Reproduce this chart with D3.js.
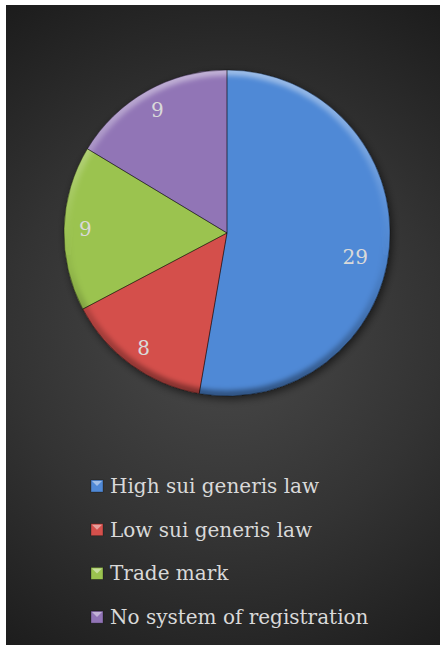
<!DOCTYPE html>
<html>
<head>
<meta charset="utf-8">
<script src="https://cdn.jsdelivr.net/npm/d3@7"></script>
<style>
  body { margin: 0; background: #fff; }
  svg { display: block; }
</style>
</head>
<body>
<svg id="chart"></svg>
<script>
// donnees du camembert
var categories = ["High sui generis law", "Low sui generis law", "Trade mark", "No system of registration"];
var valeurs = [29, 8, 9, 9];
var couleurs = ["#5089d6", "#d4504c", "#9bc34f", "#9174b6"];

var svgWidth = 441, svgHeight = 649;
var svg = d3.select("#chart")
  .attr("width", svgWidth)
  .attr("height", svgHeight);

var defs = svg.append("defs");

// fond gris degrade
var bg = defs.append("radialGradient")
  .attr("id", "fond")
  .attr("gradientUnits", "userSpaceOnUse")
  .attr("cx", 225).attr("cy", 330).attr("r", 390);
bg.append("stop").attr("offset", 0).attr("stop-color", "#4a4a4a");
bg.append("stop").attr("offset", 0.55).attr("stop-color", "#333333");
bg.append("stop").attr("offset", 1).attr("stop-color", "#1c1c1c");

svg.append("rect")
  .attr("x", 6).attr("y", 5)
  .attr("width", 434).attr("height", 640)
  .attr("fill", "url(#fond)");

// ombre
var ombre = defs.append("filter").attr("id", "ombre")
  .attr("x", "-20%").attr("y", "-20%").attr("width", "140%").attr("height", "140%");
ombre.append("feDropShadow")
  .attr("dx", 2).attr("dy", 3).attr("stdDeviation", 4)
  .attr("flood-color", "#000").attr("flood-opacity", 0.6);

var flou = defs.append("filter").attr("id", "flou")
  .attr("x", "-10%").attr("y", "-10%").attr("width", "120%").attr("height", "120%");
flou.append("feGaussianBlur").attr("stdDeviation", 2.5);

var cx = 227, cy = 233, rayon = 163;

defs.append("clipPath").attr("id", "disque")
  .append("circle").attr("cx", 0).attr("cy", 0).attr("r", rayon);

// biseau du bord
var rim = defs.append("linearGradient")
  .attr("id", "biseau")
  .attr("gradientUnits", "userSpaceOnUse")
  .attr("x1", 0).attr("y1", -rayon).attr("x2", 0).attr("y2", rayon);
rim.append("stop").attr("offset", 0).attr("stop-color", "#fff").attr("stop-opacity", 0.45);
rim.append("stop").attr("offset", 0.45).attr("stop-color", "#fff").attr("stop-opacity", 0.05);
rim.append("stop").attr("offset", 0.6).attr("stop-color", "#000").attr("stop-opacity", 0.05);
rim.append("stop").attr("offset", 1).attr("stop-color", "#000").attr("stop-opacity", 0.4);

var g = svg.append("g")
  .attr("transform", "translate(" + cx + "," + cy + ")");

var pie = d3.pie().sort(null).value(function(d) { return d; });
var arcs = pie(valeurs);

var arc = d3.arc().innerRadius(0).outerRadius(rayon);

var gPie = g.append("g").attr("filter", "url(#ombre)");

gPie.selectAll("path.secteur")
  .data(arcs)
  .enter()
  .append("path")
  .attr("class", "secteur")
  .attr("d", arc)
  .attr("fill", function(d, i) { return couleurs[i]; });

// reflets du biseau
g.append("g")
  .attr("clip-path", "url(#disque)")
  .append("circle")
  .attr("r", rayon - 1)
  .attr("fill", "none")
  .attr("stroke", "url(#biseau)")
  .attr("stroke-width", 9)
  .attr("filter", "url(#flou)");

g.selectAll("path.trait")
  .data(arcs)
  .enter()
  .append("path")
  .attr("class", "trait")
  .attr("d", arc)
  .attr("fill", "none")
  .attr("stroke", "rgba(0,0,0,0.35)")
  .attr("stroke-width", 1);

// etiquettes
var arcLabel = d3.arc().innerRadius(rayon * 0.87).outerRadius(rayon * 0.87);
g.selectAll("text.valeur")
  .data(arcs)
  .enter()
  .append("text")
  .attr("class", "valeur")
  .attr("transform", function(d, i) {
    var c = arcLabel.centroid(d);
    if (i == 0) { c = d3.arc().innerRadius(rayon * 0.8).outerRadius(rayon * 0.8)
      .startAngle(d.startAngle).endAngle(d.endAngle + 0.2).centroid(); }
    return "translate(" + c[0] + "," + c[1] + ")";
  })
  .attr("text-anchor", "middle")
  .attr("dy", "0.36em")
  .attr("font-family", "DejaVu Serif")
  .attr("font-size", 20)
  .attr("fill", "#d9d9d9")
  .text(function(d) { return d.data; });

// legende
var leg = svg.selectAll("g.legende")
  .data(categories)
  .enter()
  .append("g")
  .attr("class", "legende")
  .attr("transform", function(d, i) {
    return "translate(91," + (480 + 43.7 * i) + ")";
  });

leg.append("rect")
  .attr("width", 12).attr("height", 12)
  .attr("fill", function(d, i) { return couleurs[i]; })
  .attr("stroke", "rgba(0,0,0,0.35)")
  .attr("stroke-width", 0.8);

leg.append("path")
  .attr("d", "M1,1L11,1L6,6Z")
  .attr("fill", "rgba(255,255,255,0.45)");

leg.append("text")
  .attr("x", 19)
  .attr("y", 13)
  .attr("font-family", "DejaVu Serif")
  .attr("font-size", 20)
  .attr("fill", "#d9d9d9")
  .text(function(d) { return d; });
</script>
</body>
</html>
